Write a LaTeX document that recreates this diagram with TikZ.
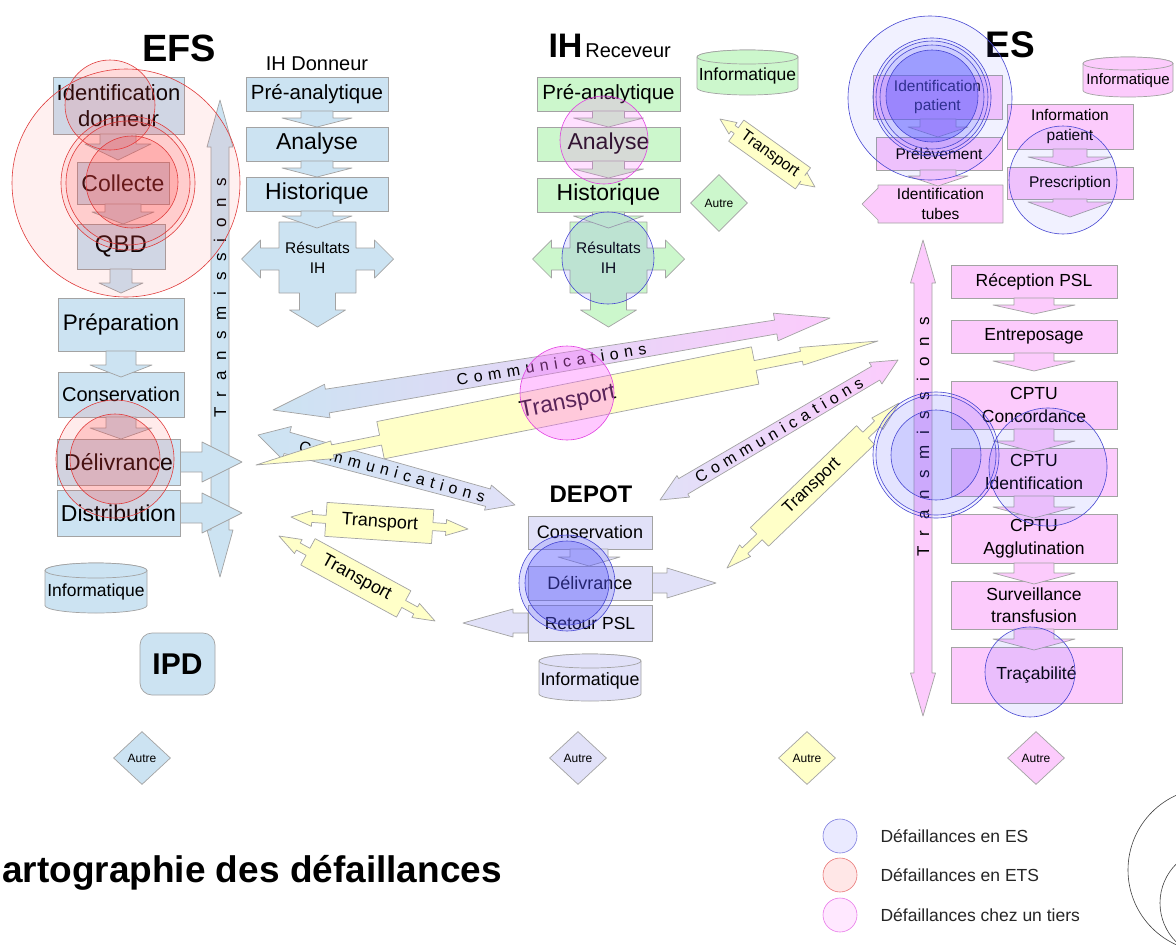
\documentclass[tikz,border=0pt]{standalone}
\usepackage{fontspec}
\setmainfont{Liberation Sans}
\newfontfamily\spc[LetterSpace=35]{Liberation Sans}
\newfontfamily\spt[LetterSpace=64]{Liberation Sans}
\usetikzlibrary{shapes.geometric}
\definecolor{efsb}{HTML}{CCE3F2}
\definecolor{ihg}{HTML}{CCF7CC}
\definecolor{esp}{HTML}{FCCBFC}
\definecolor{lav}{HTML}{E1E1F8}
\definecolor{yel}{HTML}{FFFFC8}
\definecolor{gb}{HTML}{A3A3A3}
\definecolor{cred}{HTML}{E03C3C}
\definecolor{cblue}{HTML}{4646D2}
\definecolor{cmag}{HTML}{E040E0}
\definecolor{redf}{HTML}{FF4040}
\definecolor{bluef}{HTML}{5555FF}
\definecolor{magf}{HTML}{FF66FF}
\newcommand\fs[2]{\fontsize{#1}{#2}\selectfont}
\newcommand\frameat[4]{%
  \pgfmathsetmacro\bA{atan2((#2)-(#4),(#3)-(#1))}%
  \pgfmathsetmacro\bL{veclen((#3)-(#1),(#4)-(#2))}%
  \begin{scope}[shift={(#1,#2)},rotate=\bA]}
\newcommand\frameend{\end{scope}}
% tapered double arrow: style, s1, s2, H1, H2, h1, h2
\newcommand\dpoly[7]{\draw[#1] (0,0)--(#6,-#4)--(#6,-#2)--({\bL-#7},-#3)--({\bL-#7},-#5)--(\bL,0)--({\bL-#7},#5)--({\bL-#7},#3)--(#6,#2)--(#6,#4)--cycle;}
% transport arrow: style, s, H, h1, h2, a, b, R
\newcommand\tpoly[8]{\draw[#1] (0,0)--(#4,-#3)--(#4,-#2)--(#6,-#2)--(#6,-#8)--(#7,-#8)--(#7,-#2)--({\bL-#5},-#2)--({\bL-#5},-#3)--(\bL,0)--({\bL-#5},#3)--({\bL-#5},#2)--(#7,#2)--(#7,#8)--(#6,#8)--(#6,#2)--(#4,#2)--(#4,#3)--cycle;}
% vertical double arrow: style,x,yt,yb,s,H,h
\newcommand\vdarr[7]{\draw[#1] (#2,#3)--({#2+#6},{#3+#7})--({#2+#5},{#3+#7})--({#2+#5},{#4-#7})--({#2+#6},{#4-#7})--(#2,#4)--({#2-#6},{#4-#7})--({#2-#5},{#4-#7})--({#2-#5},{#3+#7})--({#2-#6},{#3+#7})--cycle;}
% down chevron: style,x,y1,y2,s,H,h
\newcommand\varr[7]{\draw[#1] ({#2-#5},#3)--({#2+#5},#3)--({#2+#5},{#4-#7})--({#2+#6},{#4-#7})--(#2,#4)--({#2-#6},{#4-#7})--({#2-#5},{#4-#7})--cycle;}
% horizontal arrow: style,x1,xb,x2,y,s,H
\newcommand\harr[7]{\draw[#1] (#2,{#5-#6})--(#3,{#5-#6})--(#3,{#5-#7})--(#4,#5)--(#3,{#5+#7})--(#3,{#5+#6})--(#2,{#5+#6})--cycle;}
% cross
\newcommand\crossar[2]{\draw[#1] ({#2-38.5},222)--({#2+38.5},222)--({#2+38.5},248)--({#2+57},248)--({#2+57},240)--({#2+76},259)--({#2+57},278)--({#2+57},270)--({#2+38.5},270)--({#2+38.5},293)--({#2+18},293)--({#2+18},310)--({#2+28},310)--(#2,327)--({#2-28},310)--({#2-18},310)--({#2-18},293)--({#2-38.5},293)--({#2-38.5},270)--({#2-57},270)--({#2-57},278)--({#2-76},259)--({#2-57},240)--({#2-57},248)--({#2-38.5},248)--cycle;}
% cylinder: name,x1,y1,x2,y2,fill,fontsize,ry
\newcommand\cyl[8]{%
  \pgfmathsetmacro\cx{(#2+#4)/2}\pgfmathsetmacro\rx{(#4-#2)/2}%
  \draw[ar=#6] (#2,{#3+#8}) -- (#2,{#5-#8}) arc[start angle=180,end angle=0,x radius=\rx,y radius=#8] -- (#4,{#3+#8}) arc[start angle=0,end angle=-180,x radius=\rx,y radius=#8] -- cycle;
  \draw[ar=#6] (\cx,{#3+#8}) ellipse[x radius=\rx,y radius=#8];
  \node[font=\fs{#7}{#7}] (#1) at (\cx,{(#3+#5)/2+#8/2}) {Informatique};}
\tikzset{
  bx/.style={draw=gb, line width=0.7pt, fill=#1, inner sep=0pt, align=center},
  ar/.style={draw=gb, line width=0.7pt, fill=#1, line join=round},
  ar/.default=white,
  dia/.style={diamond, draw=gb, line width=0.7pt, fill=#1, minimum width=57, minimum height=53, inner sep=0pt, font=\fs{12}{14}},
  rc/.style={draw=cred, line width=0.6pt, fill=redf, fill opacity=#1},
  bc/.style={draw=cblue, line width=0.6pt, fill=bluef, fill opacity=#1},
  mc/.style={draw=cmag, line width=0.6pt, fill=magf, fill opacity=#1},
}
\begin{document}
\begin{tikzpicture}[x=1pt,y=-1pt]
\useasboundingbox (0,0) rectangle (1176,946);
\clip (0,0) rectangle (1176,946);
\fill[white] (0,0) rectangle (1176,946);

% Transmissions bars
\vdarr{ar=efsb}{220}{100}{577}{9}{13}{47}
\node[rotate=90, font=\spt\fs{17}{20}] (trE) at (220,298) {Transmissions};
\vdarr{ar=esp}{923}{240}{716}{9}{12.5}{43}
\node[rotate=90, font=\spt\fs{17}{20}] (trS) at (923,437) {Transmissions};

% Big arrows
\frameat{258}{435}{515}{505}
 \dpoly{ar, left color=efsb, right color=lav}{11}{9}{17}{13}{30}{28}
 \node[rotate=\bA, font=\spc\fs{16}{18}] (commL) at ({\bL/2+6},0) {Communications};
\frameend
\frameat{273}{410}{830}{318}
 \dpoly{ar, left color=efsb, right color=esp}{12}{7}{17}{14}{55}{55}
 \node[rotate=\bA, font=\spc\fs{16}{18}] (commU) at ({\bL/2},0) {Communications};
\frameend
\frameat{256}{465}{878}{341}
 \tpoly{ar=yel}{5}{9}{78}{78}{127}{509}{19}
 \node[rotate=\bA, font=\fs{23}{26}] (trBig) at (318,0) {Transport};
\frameend
\frameat{660}{500}{898}{360}
 \dpoly{ar, left color=lav, right color=esp}{9}{8}{12.5}{12.5}{27}{26}
 \node[rotate=\bA, font=\spc\fs{16}{18}] (commR) at ({\bL/2},0) {Communications};
\frameend
\frameat{727}{568}{899}{403}
 \tpoly{ar=yel}{4}{8}{25}{30}{45}{192}{13}
 \node[rotate=\bA, font=\fs{17}{19}] (trR) at (118,0) {Transport};
\frameend
\frameat{291}{517}{468}{529}
 \tpoly{ar=yel}{4}{8}{21}{22}{35}{142}{17}
 \node[rotate=\bA, font=\fs{18}{20}] (trS1) at (89,0) {Transport};
\frameend
\frameat{279}{536}{435}{621}
 \tpoly{ar=yel}{4}{8}{22}{22}{33}{142}{15}
 \node[rotate=\bA, font=\fs{18}{20}] (trS2) at (88,0) {Transport};
\frameend
\frameat{720}{119}{815}{187}
 \tpoly{ar=yel}{3.5}{7}{16}{15}{20}{102}{13}
 \node[rotate=\bA, font=\fs{16}{18}] (trT) at (61,0) {Transport};
\frameend

% EFS
\node[font=\bfseries\fs{38}{40}] (efs) at (179,48.5) {EFS};
\node[bx=efsb, minimum width=131, minimum height=57, font=\fs{22}{26}] (iddon) at (118.5,105.5) {Identification\\donneur};
\node[bx=efsb, minimum width=92, minimum height=42, font=\fs{23}{26}] (coll) at (123,183) {Collecte};
\node[bx=efsb, minimum width=88, minimum height=45, font=\fs{24}{26}] (qbd) at (121,246.5) {QBD};
\node[bx=efsb, minimum width=126, minimum height=53, font=\fs{22.5}{26}] (prep) at (121,324.5) {Préparation};
\node[bx=efsb, minimum width=126, minimum height=45, font=\fs{20}{24}] (cons) at (121,394.5) {Conservation};
\harr{ar=efsb}{180}{202}{242}{462}{10}{20}
\harr{ar=efsb}{180}{202}{242}{513}{10}{20}
\node[bx=efsb, minimum width=123, minimum height=46, font=\fs{23}{26}] (deliv) at (118.5,462) {Délivrance};
\node[bx=efsb, minimum width=123, minimum height=46, font=\fs{23}{26}] (distr) at (118.5,513) {Distribution};
\varr{ar=efsb}{118}{134}{160}{18}{33}{16}
\varr{ar=efsb}{123}{204}{224}{18}{31}{12}
\varr{ar=efsb}{121}{269}{293}{11}{22}{10}
\varr{ar=efsb}{121}{351}{377}{15}{31}{12}
\varr{ar=efsb}{121}{417}{439}{15}{31}{11}
\cyl{infE}{45}{563}{147}{613}{efsb}{17.5}{7.5}
\node[draw=gb, line width=0.7pt, fill=efsb, rounded corners=12pt, minimum width=75, minimum height=62, font=\bfseries\fs{30}{32}] (ipd) at (177.5,664) {IPD};

% IH Donneur
\node[font=\fs{20}{22}] (ihd) at (317,64) {IH Donneur};
\node[bx=efsb, minimum width=142, minimum height=34, font=\fs{20.5}{23}] (dpre) at (317,94) {Pré-analytique};
\node[bx=efsb, minimum width=142, minimum height=34, font=\fs{23}{26}] (dana) at (317,144) {Analyse};
\node[bx=efsb, minimum width=142, minimum height=34, font=\fs{23}{26}] (dhist) at (317,194) {Historique};
\crossar{ar=efsb}{317.5}
\node[font=\fs{15.5}{20}, align=center] (dres) at (317.5,258) {Résultats\\IH};
\varr{ar=efsb}{317}{111}{127}{16}{35}{9}
\varr{ar=efsb}{317}{161}{177}{16}{35}{9}
\varr{ar=efsb}{317}{211}{228}{16}{35}{12}

% IH Receveur
\node[anchor=base west] (ihr) at (545,57) {{\bfseries\fs{34}{36}IH} {\fs{20}{22}Receveur}};
\node[bx=ihg, minimum width=143, minimum height=34, font=\fs{20.5}{23}] (rpre) at (608.5,94) {Pré-analytique};
\node[bx=ihg, minimum width=143, minimum height=34, font=\fs{23}{26}] (rana) at (608.5,144) {Analyse};
\node[bx=ihg, minimum width=143, minimum height=34, font=\fs{23}{26}] (rhist) at (608.5,195) {Historique};
\crossar{ar=ihg}{608.5}
\node[font=\fs{15.5}{20}, align=center] (rres) at (608.5,258) {Résultats\\IH};
\varr{ar=ihg}{608.5}{111}{127}{16}{35}{9}
\varr{ar=ihg}{608.5}{161}{178}{16}{35}{9}
\varr{ar=ihg}{608.5}{212}{228}{16}{35}{12}
\cyl{infG}{697}{50}{798}{95}{ihg}{17.5}{7}
\node[dia=ihg, minimum width=57, minimum height=57] (autreG) at (719,203) {Autre};

% ES top
\node[font=\bfseries\fs{37}{40}] (es) at (1010,44.5) {ES};
\node[bx=esp, minimum width=129, minimum height=44, font=\fs{15.5}{19}] (idpat) at (937.5,97) {Identification\\patient};
\node[bx=esp, minimum width=126, minimum height=33, font=\fs{15.5}{18}] (prel) at (939,153.5) {Prélèvement};
\draw[ar=esp] (1003,185)--(878,185)--(878,188)--(862,204)--(878,220)--(878,223)--(1003,223)--cycle;
\node[font=\fs{15.5}{20}, align=center] (idtub) at (940.5,204) {Identification\\tubes};
\node[bx=esp, minimum width=126, minimum height=45, font=\fs{15.5}{20}] (infp) at (1070,126.5) {Information\\patient};
\node[bx=esp, minimum width=126, minimum height=32, font=\fs{15.5}{18}] (presc) at (1070,183) {Prescription};
\varr{ar=esp}{938}{119}{137}{18}{30}{10}
\varr{ar=esp}{938}{170}{186}{18}{30}{10}
\varr{ar=esp}{1070}{149}{167}{17}{42}{10}
\varr{ar=esp}{1070}{199}{217}{17}{42}{15}
\cyl{infS}{1083}{57}{1173}{97}{esp}{15}{6.5}

% ES column
\node[bx=esp, minimum width=166, minimum height=33, font=\fs{17.5}{23}] (recep) at (1034,281.5) {Réception PSL};
\node[bx=esp, minimum width=166, minimum height=33, font=\fs{17.5}{23}] (entre) at (1034,336.5) {Entreposage};
\node[bx=esp, minimum width=166, minimum height=48, font=\fs{17.5}{23}] (conc) at (1034,405) {CPTU\\Concordance};
\node[bx=esp, minimum width=166, minimum height=48, font=\fs{17.5}{23}] (cident) at (1034,472) {CPTU\\Identification};
\node[bx=esp, minimum width=166, minimum height=49, font=\fs{17.5}{23}] (aggl) at (1034,538.5) {CPTU\\Agglutination};
\node[bx=esp, minimum width=166, minimum height=48, font=\fs{17.5}{22}] (surv) at (1034,605) {Surveillance\\transfusion};
\node[bx=esp, minimum width=171, minimum height=56, font=\fs{17.5}{23}] (traca) at (1036.5,675) {Traçabilité};
\varr{ar=esp}{1034}{298}{314}{20}{41}{9}
\varr{ar=esp}{1034}{353}{371}{20}{41}{10}
\varr{ar=esp}{1034}{429}{452}{20}{41}{11}
\varr{ar=esp}{1034}{496}{518}{20}{41}{11}
\varr{ar=esp}{1034}{563}{584}{20}{41}{11}
\varr{ar=esp}{1034}{629}{650}{20}{41}{11}

% DEPOT
\node[font=\bfseries\fs{24}{26}] (depot) at (591,494.5) {DEPOT};
\node[bx=lav, minimum width=124, minimum height=33, font=\fs{18}{20}] (dcons) at (590,532.5) {Conservation};
\harr{ar=lav}{652}{667}{716}{583}{10}{15}
\node[bx=lav, minimum width=124, minimum height=34, font=\fs{18}{20}] (ddeliv) at (590,583) {Délivrance};
\harr{ar=lav}{528}{513}{463}{623}{10}{14}
\node[bx=lav, minimum width=124, minimum height=36, font=\fs{17.5}{20}] (dret) at (590,623) {Retour PSL};
\varr{ar=lav}{589}{549}{566}{19}{31}{9}
\cyl{infD}{539}{654}{641}{701}{lav}{17.8}{7}

% Autre
\node[dia=efsb] (autre1) at (142,758) {Autre};
\node[dia=lav] (autre2) at (578,758) {Autre};
\node[dia=yel] (autre3) at (807,758) {Autre};
\node[dia=esp] (autre4) at (1036,758) {Autre};

% failure circles
\draw[rc=0.08] (126,183) circle[radius=114];
\draw[rc=0.12] (110,105) circle[radius=45];
\draw[rc=0.1] (128,183) circle[radius=67];
\draw[rc=0.1] (128,183) circle[radius=62];
\draw[rc=0.2] (132,182) circle[radius=46];
\draw[rc=0.1] (115,459) circle[radius=59];
\draw[rc=0.2] (115,459) circle[radius=45];

\draw[bc=0.08] (930,98) circle[radius=82];
\draw[bc=0.08] (932,97) circle[radius=59];
\draw[bc=0.08] (932,97) circle[radius=56];
\draw[bc=0.08] (932,97) circle[radius=52];
\draw[bc=0.4] (932,96) circle[radius=46];
\draw[bc=0.08] (1063,180) circle[radius=54];
\draw[bc=0.12] (608,258) circle[radius=46];
\draw[bc=0.08] (936,455) circle[radius=63];
\draw[bc=0.08] (936,455) circle[radius=60];
\draw[bc=0.15] (936,455) circle[radius=45];
\draw[bc=0.1] (1048,467) circle[radius=59];
\draw[bc=0.1] (1030,672) circle[radius=45];
\draw[bc=0.2] (567,583) circle[radius=48];
\draw[bc=0.3] (567,583) circle[radius=42];

\draw[mc=0.2] (604,140) circle[radius=44];
\draw[mc=0.35] (567,393) circle[radius=47];

% legend
\draw[draw=cblue!70, fill=bluef, fill opacity=0.12, line width=0.6pt] (840,836) circle[radius=17];
\draw[draw=cred!70, fill=redf, fill opacity=0.12, line width=0.6pt] (840,875) circle[radius=17];
\draw[draw=cmag!70, fill=magf, fill opacity=0.15, line width=0.6pt] (840,915) circle[radius=17];
\node[anchor=west, font=\fs{17.5}{20}, text=black!85] (lg1) at (877,836) {Défaillances en ES};
\node[anchor=west, font=\fs{17.5}{20}, text=black!85] (lg2) at (877,875) {Défaillances en ETS};
\node[anchor=west, font=\fs{17.5}{20}, text=black!85] (lg3) at (877,915) {Défaillances chez un tiers};

% title
\node[anchor=base west, inner sep=0pt, font=\bfseries\fs{37}{40}] (titre) at (2,882) {artographie des défaillances};

% corner arcs
\draw[black!75, line width=0.6pt] (1210,870) circle[radius=82];
\draw[black!75, line width=0.6pt] (1215,903) circle[radius=55];
\end{tikzpicture}
\end{document}
